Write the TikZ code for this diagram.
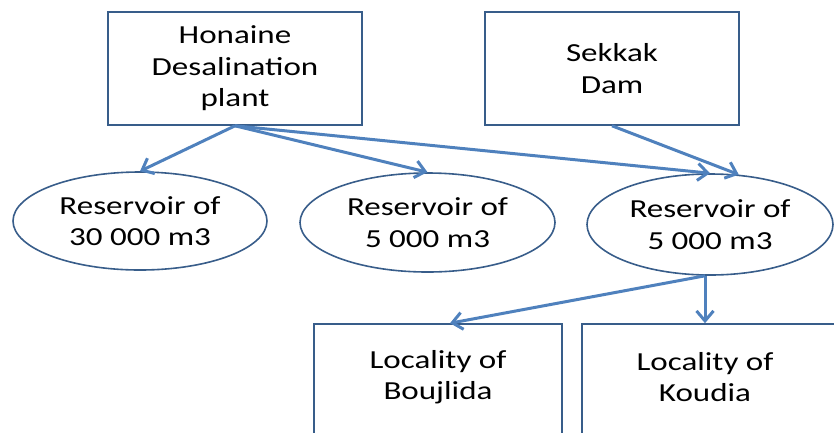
\documentclass[tikz,border=0pt]{standalone}
\usepackage{fontspec}
\setmainfont{Carlito}[FakeStretch=1.27]
\usetikzlibrary{arrows.meta,shapes.geometric}
\definecolor{boxblue}{RGB}{56,93,138}
\definecolor{arrowblue}{RGB}{79,129,189}

\begin{document}
\begin{tikzpicture}[x=1pt,y=-1pt,
  box/.style={draw=boxblue,line width=1.6pt,rectangle,minimum width=254pt,minimum height=113pt,
    align=center,inner sep=0pt,font=\fontsize{26}{31.5}\selectfont},
  tank/.style={draw=boxblue,line width=1.6pt,ellipse,minimum width=254pt,minimum height=98pt,
    align=center,inner sep=0pt,font=\fontsize{26}{31.5}\selectfont},
  txt/.style={align=center,font=\fontsize{26}{31.5}\selectfont},
  flow/.style={draw=arrowblue,line width=3pt,-{Straight Barb[length=10pt,width=17pt]}}]
\useasboundingbox (0,0) rectangle (834,432);
\clip (0,0) rectangle (834,432);

% sources
\node[box] (h) at (235,68.5) {Honaine\\Desalination\\plant};
\node[box] (s) at (612,68.5) {Sekkak\\Dam};

% reservoirs
\node[tank] (r1) at (140,221) {Reservoir of\\30 000 m3};
\node[tank,minimum width=255pt,minimum height=99pt] (r2) at (427.5,222.5) {Reservoir of\\5 000 m3};
\node[tank,minimum width=246pt,minimum height=101pt] (r3) at (710,224.5) {Reservoir of\\5 000 m3};

% localities
\node[box,minimum width=248pt,minimum height=140pt] (b) at (438,394) {};
\node[box,minimum width=260pt,minimum height=140pt] (k) at (712,394) {};
\node[txt] (bt) at (438,377) {Locality of\\Boujlida};
\node[txt] (kt) at (705,377) {Locality of\\Koudia};

\draw[flow] (h.south) -- (r1.north);
\draw[flow] (h.south) -- (r2.north);
\draw[flow] (h.south) -- (r3.north);
\draw[flow] (s.south) -- (r3.60);
\draw[flow] ([xshift=-5pt]r3.south) -- ([xshift=12pt]b.north);
\draw[flow] ([xshift=-5pt]r3.south) -- ([xshift=-7pt]k.north);
\end{tikzpicture}
\end{document}
